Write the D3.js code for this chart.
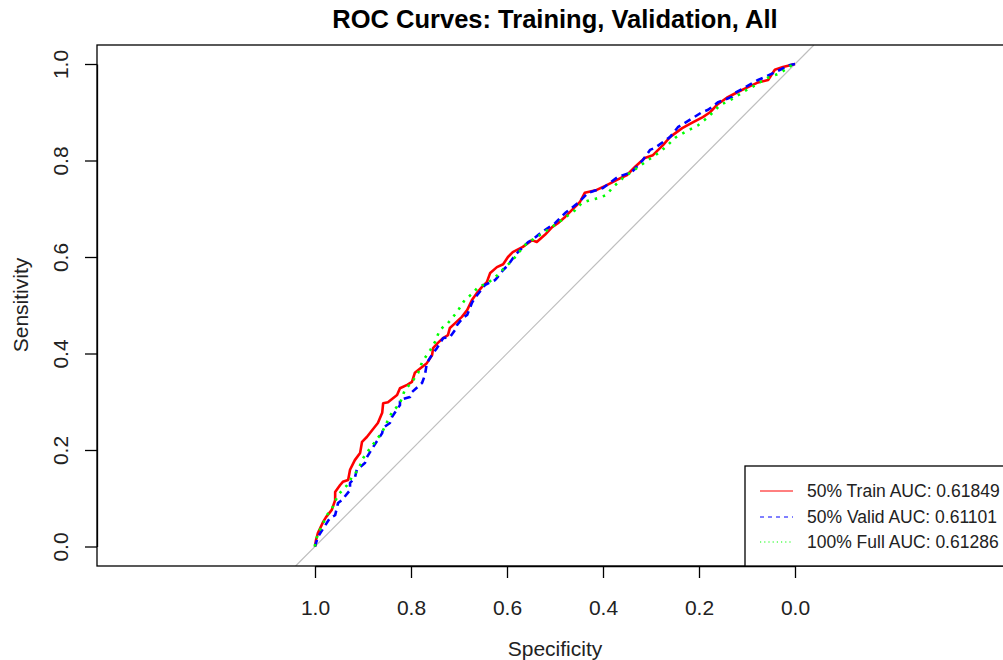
<!DOCTYPE html>
<html>
<head>
<meta charset="utf-8">
<script src="https://cdn.jsdelivr.net/npm/d3@7"></script>
<style>
  body { margin: 0; background: #fff; }
  svg { display: block; font-family: "Liberation Sans", Arial, sans-serif; }
</style>
</head>
<body>
<svg id="chart" width="1003" height="660"></svg>
<script>
// ---------- data ----------
const title = "ROC Curves: Training, Validation, All";
const xLabel = "Specificity";
const yLabel = "Sensitivity";
const tickValues = [1.0, 0.8, 0.6, 0.4, 0.2, 0.0];
const tickLabels = ["1.0", "0.8", "0.6", "0.4", "0.2", "0.0"];

const seriesNames = ["50% Train AUC: 0.61849", "50% Valid AUC: 0.61101", "100% Full AUC: 0.61286"];

const trainSpec = [1.0,0.998,0.994,0.983,0.977,0.965,0.958,0.958,0.948,0.942,0.931,0.927,0.917,0.906,0.902,0.892,0.881,0.869,0.860,0.858,0.848,0.829,0.823,0.808,0.798,0.792,0.777,0.767,0.756,0.754,0.744,0.733,0.723,0.719,0.708,0.694,0.683,0.673,0.663,0.652,0.642,0.635,0.621,0.608,0.598,0.588,0.567,0.548,0.538,0.521,0.506,0.494,0.479,0.465,0.448,0.438,0.413,0.392,0.371,0.350,0.333,0.313,0.296,0.275,0.260,0.235,0.215,0.192,0.177,0.163,0.142,0.119,0.098,0.079,0.056,0.042,0.025,0.0];
const trainSens = [0.0,0.013,0.028,0.051,0.061,0.076,0.096,0.113,0.127,0.134,0.138,0.159,0.179,0.194,0.217,0.227,0.241,0.256,0.277,0.297,0.299,0.314,0.328,0.335,0.341,0.360,0.372,0.380,0.397,0.411,0.422,0.432,0.438,0.453,0.463,0.476,0.490,0.511,0.525,0.538,0.548,0.567,0.579,0.585,0.600,0.610,0.621,0.635,0.631,0.646,0.662,0.670,0.683,0.697,0.714,0.733,0.739,0.749,0.760,0.770,0.787,0.805,0.811,0.832,0.849,0.867,0.878,0.890,0.900,0.915,0.930,0.942,0.952,0.961,0.967,0.988,0.994,1.0];

const validSpec = [1.0,0.994,0.985,0.969,0.958,0.952,0.944,0.927,0.927,0.917,0.913,0.896,0.892,0.879,0.860,0.858,0.844,0.840,0.823,0.823,0.802,0.798,0.777,0.771,0.767,0.754,0.746,0.733,0.719,0.708,0.704,0.692,0.683,0.673,0.667,0.650,0.646,0.625,0.619,0.608,0.598,0.583,0.556,0.548,0.527,0.521,0.500,0.479,0.452,0.431,0.400,0.369,0.340,0.317,0.302,0.292,0.260,0.244,0.213,0.194,0.181,0.160,0.131,0.125,0.077,0.067,0.010,0.0];
const validSens = [0.0,0.020,0.034,0.059,0.065,0.090,0.096,0.117,0.132,0.142,0.159,0.173,0.185,0.206,0.235,0.246,0.256,0.268,0.293,0.304,0.310,0.320,0.339,0.355,0.380,0.401,0.411,0.432,0.434,0.449,0.459,0.474,0.480,0.505,0.515,0.536,0.542,0.552,0.559,0.573,0.583,0.604,0.631,0.635,0.652,0.656,0.670,0.691,0.712,0.733,0.743,0.766,0.776,0.801,0.822,0.826,0.849,0.869,0.888,0.900,0.905,0.921,0.932,0.940,0.967,0.971,0.998,1.0];

const fullSpec = [1.0,1.0,0.990,0.975,0.963,0.952,0.933,0.923,0.910,0.900,0.885,0.875,0.860,0.848,0.840,0.823,0.813,0.798,0.785,0.777,0.760,0.750,0.740,0.723,0.704,0.688,0.671,0.660,0.640,0.619,0.608,0.594,0.583,0.577,0.558,0.538,0.510,0.485,0.458,0.444,0.427,0.410,0.392,0.381,0.358,0.344,0.306,0.281,0.265,0.250,0.229,0.202,0.181,0.156,0.135,0.108,0.083,0.058,0.031,0.006,0.0];
const fullSens = [0.0,0.009,0.034,0.065,0.082,0.107,0.127,0.144,0.159,0.183,0.204,0.217,0.237,0.262,0.277,0.297,0.324,0.341,0.360,0.382,0.407,0.424,0.449,0.463,0.486,0.511,0.525,0.538,0.546,0.563,0.575,0.588,0.600,0.608,0.629,0.641,0.660,0.677,0.697,0.712,0.718,0.722,0.729,0.743,0.764,0.774,0.801,0.818,0.832,0.847,0.859,0.873,0.890,0.915,0.925,0.942,0.956,0.971,0.981,0.998,1.0];

// ---------- layout ----------
const svg = d3.select("#chart");
const x = d3.scaleLinear().domain([1, 0]).range([315, 795]);
const y = d3.scaleLinear().domain([0, 1]).range([546.5, 64]);
const box = { left: 97, right: 1013, top: 45, bottom: 566 };

svg.append("defs").append("clipPath").attr("id", "clip")
  .append("rect").attr("x", box.left).attr("y", box.top)
  .attr("width", box.right - box.left).attr("height", box.bottom - box.top);

// diagonal reference line (spec + sens = 1), extended across the plot region
const sBot = y.invert(box.bottom), sTop = y.invert(box.top);
svg.append("line")
  .attr("clip-path", "url(#clip)")
  .attr("x1", x(1 - sBot)).attr("y1", y(sBot))
  .attr("x2", x(1 - sTop)).attr("y2", y(sTop))
  .attr("stroke", "#BEBEBE").attr("stroke-width", 1.2);

// curves
const line = d3.line().x(d => x(d[0])).y(d => y(d[1]));
const series = [
  { spec: trainSpec, sens: trainSens, color: "#FF0000", dash: null },
  { spec: validSpec, sens: validSens, color: "#0000FF", dash: "7,5" },
  { spec: fullSpec,  sens: fullSens,  color: "#00FF00", dash: "2.5,6" }
];
series.forEach(s => {
  const pts = s.spec.map((v, i) => [v, s.sens[i]]);
  svg.append("path")
    .attr("clip-path", "url(#clip)")
    .attr("d", line(pts))
    .attr("fill", "none")
    .attr("stroke", s.color)
    .attr("stroke-width", 2.6)
    .attr("stroke-linejoin", "round")
    .attr("stroke-dasharray", s.dash);
});

// box
svg.append("rect")
  .attr("x", box.left).attr("y", box.top)
  .attr("width", box.right - box.left).attr("height", box.bottom - box.top)
  .attr("fill", "none").attr("stroke", "#000").attr("stroke-width", 1.3);

// x axis
const xAxis = d3.axisBottom(x).tickValues(tickValues)
  .tickFormat((d, i) => tickLabels[i]).tickSize(12).tickSizeOuter(0);
const gx = svg.append("g").attr("transform", `translate(0,${box.bottom})`).call(xAxis);
gx.select(".domain").attr("stroke-width", 1.3);
gx.selectAll(".tick line").attr("stroke-width", 1.3);
gx.selectAll(".tick text").attr("font-size", 21).attr("fill", "#222")
  .attr("font-family", "Liberation Sans, Arial, sans-serif")
  .attr("dy", null).attr("y", 49);

// y axis
const yAxis = d3.axisLeft(y).tickValues(tickValues)
  .tickFormat((d, i) => tickLabels[i]).tickSize(12).tickSizeOuter(0);
const gy = svg.append("g").attr("transform", `translate(${box.left},0)`).call(yAxis);
gy.select(".domain").attr("stroke-width", 1.3);
gy.selectAll(".tick line").attr("stroke-width", 1.3);
gy.selectAll(".tick text").attr("font-size", 21).attr("fill", "#222")
  .attr("font-family", "Liberation Sans, Arial, sans-serif")
  .attr("x", null).attr("dy", null)
  .attr("text-anchor", "middle")
  .attr("transform", "translate(-29,0) rotate(-90)");

// title and labels
svg.append("text").attr("x", 555).attr("y", 28)
  .attr("text-anchor", "middle").attr("font-size", 25.5).attr("font-weight", "bold")
  .text(title);
svg.append("text").attr("x", 555).attr("y", 656)
  .attr("text-anchor", "middle").attr("font-size", 21).attr("fill", "#222")
  .text(xLabel);
svg.append("text").attr("transform", "translate(28,305) rotate(-90)")
  .attr("text-anchor", "middle").attr("font-size", 21).attr("fill", "#222")
  .text(yLabel);

// legend
const lg = svg.append("g");
lg.append("rect").attr("x", 745).attr("y", 466).attr("width", 300).attr("height", 100)
  .attr("fill", "#fff").attr("stroke", "#000").attr("stroke-width", 1.3);
const legendY = [491, 517, 542];
const legendDash = [null, "4,4", "1.2,3"];
series.forEach((s, i) => {
  lg.append("line").attr("x1", 760).attr("x2", 793)
    .attr("y1", legendY[i]).attr("y2", legendY[i])
    .attr("stroke", s.color).attr("stroke-width", 1)
    .attr("stroke-dasharray", legendDash[i]);
  lg.append("text").attr("x", 807).attr("y", legendY[i])
    .attr("dominant-baseline", "central")
    .attr("font-size", 17.5).attr("fill", "#222")
    .text(seriesNames[i]);
});
</script>
</body>
</html>
